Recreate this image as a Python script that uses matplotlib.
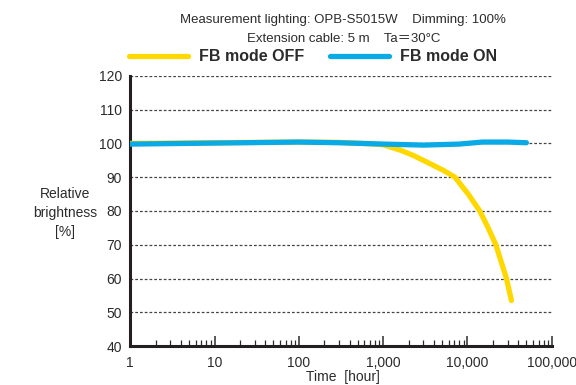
import numpy as np
import matplotlib
matplotlib.use("Agg")
import matplotlib.pyplot as plt
from matplotlib.ticker import FixedLocator, LogLocator, NullFormatter

plt.rcParams['font.family'] = ['Liberation Sans', 'Noto Sans CJK JP', 'DejaVu Sans']

# brightness over lifetime, read at hours on a log axis
hours_off = [1, 10, 100, 300, 700, 1000, 1600, 2300, 3600, 5200, 7100, 10200,
             14000, 17600, 21700, 29000, 33200]
bright_off = [100.0, 100.2, 100.4, 100.3, 99.9, 99.6, 98.0, 96.4, 94.0, 92.0, 90.0, 85.0,
              80.0, 75.0, 70.0, 60.0, 53.5]

hours_on = [1, 10, 100, 300, 1000, 3000, 8000, 15000, 30000, 50000]
bright_on = [99.8, 100.1, 100.4, 100.2, 99.8, 99.5, 99.8, 100.4, 100.4, 100.2]

x_ticks = [1, 10, 100, 1000, 10000, 100000]
x_labels = ['1', '10', '100', '1,000', '10,000', '100,000']
y_ticks = [40, 50, 60, 70, 80, 90, 100, 110, 120]

ink = '#2b2b2b'
fig = plt.figure(figsize=(5.76, 3.85), dpi=100)
ax = fig.add_axes([0.226, 0.101, 0.732, 0.702])

for y in y_ticks[1:]:
    ax.axhline(y, color='#444444', lw=0.9, ls=(0, (2.2, 1.6)), zorder=1)

ax.plot(hours_off, bright_off, color='#FFD800', lw=3.8, solid_capstyle='round',
        solid_joinstyle='round', label='FB mode OFF', zorder=3)
ax.plot(hours_on, bright_on, color='#0AAAE6', lw=3.8, solid_capstyle='round',
        solid_joinstyle='round', label='FB mode ON', zorder=4)

ax.set_xscale('log')
ax.set_xlim(1, 100000)
ax.set_ylim(40, 120)
ax.xaxis.set_major_locator(FixedLocator(x_ticks))
ax.set_xticklabels(x_labels)
ax.xaxis.set_minor_locator(LogLocator(base=10, subs=np.arange(2, 10)))
ax.xaxis.set_minor_formatter(NullFormatter())
ax.set_yticks(y_ticks)

ax.tick_params(axis='x', which='major', direction='in', length=7, width=1.1,
               colors=ink, labelsize=10, pad=7)
ax.tick_params(axis='x', which='minor', direction='in', length=4, width=0.9, colors=ink)
ax.tick_params(axis='y', length=0, labelsize=10, labelcolor=ink, pad=6)

for side in ['top', 'right']:
    ax.spines[side].set_visible(False)
for side in ['left', 'bottom']:
    ax.spines[side].set_linewidth(2.2)
    ax.spines[side].set_color('#231f20')

fig.text(0.596, 0.021, 'Time  [hour]', ha='center', va='center', fontsize=10, color=ink)
fig.text(0.113, 0.447, 'Relative\nbrightness\n[%]', ha='center', va='center',
         fontsize=10, color=ink, linespacing=1.45)

fig.text(0.596, 0.948, 'Measurement lighting: OPB-S5015W    Dimming: 100%',
         ha='center', va='center', fontsize=9.5, color=ink)
fig.text(0.596, 0.899, 'Extension cable: 5 m    Ta\uff1d30\u00b0C',
         ha='center', va='center', fontsize=9.5, color=ink)

leg = ax.legend(loc='center', bbox_to_anchor=(0.434, 1.07), ncol=2, frameon=False,
                handlelength=3.7, handletextpad=0.7, columnspacing=1.6,
                prop={'weight': 'bold', 'size': 11.5})
for t in leg.get_texts():
    t.set_color(ink)

fig.savefig('out.png', dpi=100)
